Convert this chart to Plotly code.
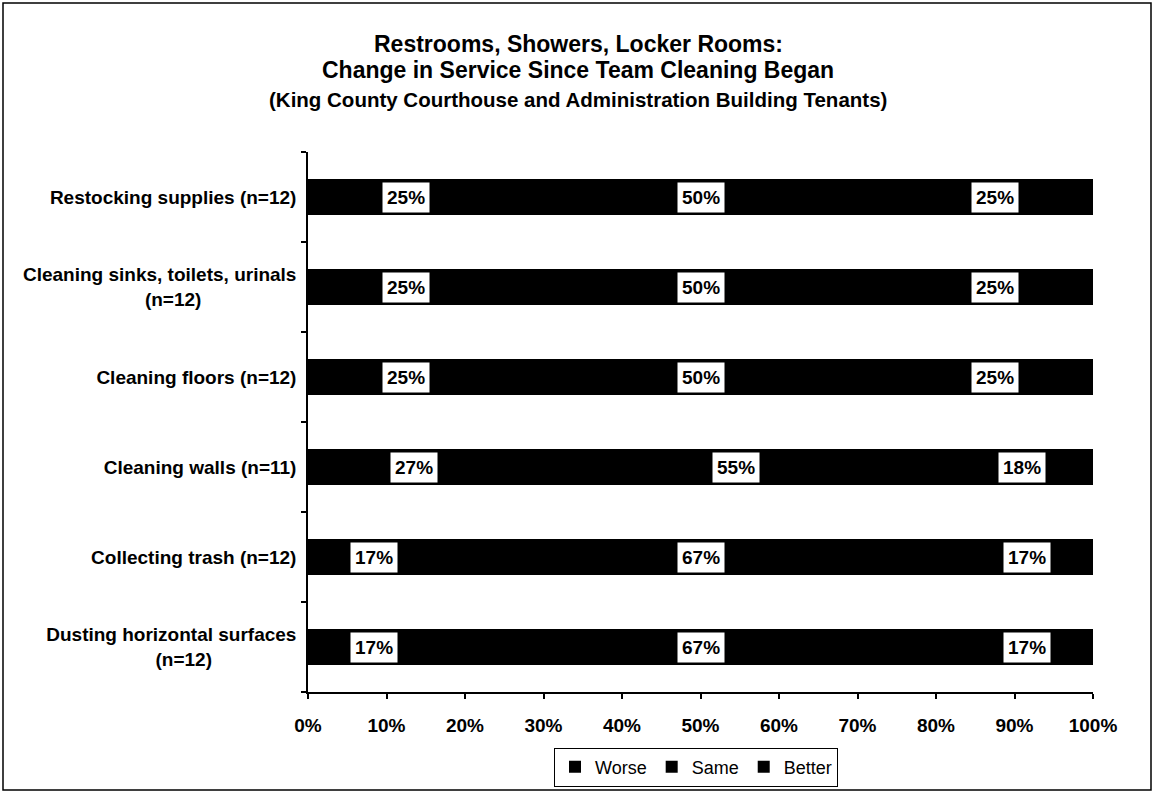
import plotly.graph_objects as go

categories = [
    "Restocking supplies (n=12)",
    "Cleaning sinks, toilets, urinals<br>(n=12)",
    "Cleaning floors (n=12)",
    "Cleaning walls (n=11)",
    "Collecting trash (n=12)",
    "Dusting horizontal surfaces<br>(n=12)",
]
worse = [25, 25, 25, 27, 16.7, 16.7]
same = [50, 50, 50, 55, 66.6, 66.6]
better = [25, 25, 25, 18, 16.7, 16.7]
series_names = ["Worse", "Same", "Better"]
xtick_vals = [0, 10, 20, 30, 40, 50, 60, 70, 80, 90, 100]
xtick_text = [f"{v}%" for v in xtick_vals]

FONT = "Liberation Sans, Arial, sans-serif"
NB = "&nbsp;"

fig = go.Figure()
for name, vals in zip(series_names, [worse, same, better]):
    fig.add_trace(go.Bar(
        y=categories, x=vals, name=name, orientation="h",
        marker=dict(color="black", line=dict(width=0)),
        width=0.4,
    ))

annotations = []
for i, cat in enumerate(categories):
    start = 0
    for vals in [worse, same, better]:
        v = vals[i]
        annotations.append(dict(
            x=start + v / 2, y=cat, xref="x", yref="y",
            text=f"<b>{round(v):.0f}%</b>", showarrow=False,
            bgcolor="white", borderpad=4,
            font=dict(family=FONT, size=19, color="black"),
        ))
        start += v

W, H = 1154, 794
L, R, T, B = 308, 1093, 152, 692

def px_x(px):
    return (px - L) / (R - L)

def px_y(py):
    return (B - py) / (B - T)

title_lines = [
    ("<b>Restrooms, Showers, Locker Rooms:</b>", 44, 23),
    ("<b>Change in Service Since Team Cleaning Began</b>", 70, 23),
    ("<b>(King County Courthouse and Administration Building Tenants)</b>", 100, 20.5),
]
for txt, py, sz in title_lines:
    annotations.append(dict(
        x=px_x(578), y=px_y(py), xref="paper", yref="paper",
        text=txt, showarrow=False, xanchor="center", yanchor="middle",
        font=dict(family=FONT, size=sz, color="black"),
    ))

# tick label text: second line centred under the first line
def tick_label(c):
    parts = c.split("<br>")
    if len(parts) == 1:
        return f"<b>{c}</b>"
    pad = {"Cleaning sinks": 18, "Dusting": 16}
    n = next(v for k, v in pad.items() if parts[0].startswith(k))
    return f"<b>{parts[0]}<br>{parts[1]}{NB * n}</b>"

fig.update_layout(
    width=W, height=H,
    margin=dict(l=L, r=W - R, t=T, b=H - B),
    barmode="stack",
    plot_bgcolor="white", paper_bgcolor="white",
    font=dict(family=FONT, color="black"),
    showlegend=True,
    legend=dict(
        orientation="h", x=px_x(696), xanchor="center",
        yref="container", y=1 - 767 / H, yanchor="middle",
        bordercolor="black", borderwidth=1, bgcolor="white",
        font=dict(family=FONT, size=18, color="black"),
        itemwidth=30, traceorder="normal",
    ),
    annotations=annotations,
    shapes=[dict(
        type="rect", xref="paper", yref="paper",
        x0=px_x(3), x1=px_x(1151), y0=px_y(790), y1=px_y(3),
        line=dict(color="black", width=1.5), fillcolor="rgba(0,0,0,0)",
    )],
)
fig.update_xaxes(
    range=[0, 100], tickvals=xtick_vals, ticktext=[f"<b>{t}</b>" for t in xtick_text],
    showgrid=False, zeroline=False, showline=True, linecolor="black", linewidth=1.5,
    ticks="outside", ticklen=5, tickcolor="black", tickwidth=1.5,
    tickfont=dict(family=FONT, size=19, color="black"), ticklabelstandoff=10,
)
fig.update_yaxes(
    categoryorder="array", categoryarray=categories, autorange="reversed",
    tickvals=categories, ticktext=[tick_label(c) for c in categories],
    showgrid=False, zeroline=False, showline=True, linecolor="black", linewidth=1.5,
    ticks="outside", ticklen=5, tickcolor="black", tickwidth=1.5, tickson="boundaries",
    tickfont=dict(family=FONT, size=19, color="black"), ticklabelstandoff=6,
)

fig.write_html("out.html")
